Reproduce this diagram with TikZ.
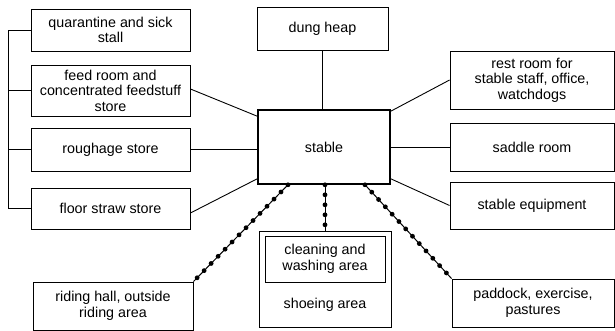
\documentclass[tikz,border=0pt]{standalone}
\usepackage{fontspec}
\setmainfont{Liberation Sans}
\tikzset{
  room/.style={draw, line width=0.9pt, align=center, inner sep=0pt, font=\fontsize{14.3}{15.5}\selectfont},
  link/.style={line width=0.9pt},
  walk/.style={line width=1pt, preaction={draw, line width=4.8pt, line cap=round, dash pattern=on 0pt off 10pt}}
}
\begin{document}
\begin{tikzpicture}[x=1pt, y=-1pt]
    \useasboundingbox (0,0) rectangle (615,331);

    % stores on the left
    \node[room, minimum width=159pt, minimum height=42pt] (quar) at (110.5,30) {quarantine and sick\\stall};
    \node[room, minimum width=159pt, minimum height=51pt] (feed) at (110.5,90.5) {feed room and\\concentrated feedstuff\\store};
    \node[room, minimum width=159pt, minimum height=43pt] (rough) at (110.5,149.5) {roughage store};
    \node[room, minimum width=159pt, minimum height=41pt] (straw) at (110.5,208.5) {floor straw store};

    % centre
    \node[room, minimum width=131pt, minimum height=43pt] (dung) at (322.5,28.5) {dung heap};
    \node[room, line width=1.6pt, minimum width=132pt, minimum height=74pt] (stable) at (324,147) {stable};

    % rooms on the right
    \node[room, minimum width=164pt, minimum height=58pt] (rest) at (532,80) {rest room for\\stable staff, office,\\watchdogs};
    \node[room, minimum width=164pt, minimum height=48pt] (saddle) at (532,147) {saddle room};
    \node[room, minimum width=164pt, minimum height=47pt] (equip) at (532,205.5) {stable equipment};

    % outside
    \node[room, minimum width=160pt, minimum height=48pt] (riding) at (113,306) {riding hall, outside\\riding area};
    \node[room, minimum width=132pt, minimum height=96pt] (shoe) at (325,279) {};
    \node[room, minimum width=120pt, minimum height=46pt] (clean) at (325,259) {cleaning and\\washing area};
    \node[font=\fontsize{14.3}{15.5}\selectfont] (shoelbl) at (325,305) {shoeing area};
    \node[room, minimum width=162pt, minimum height=48pt] (paddock) at (533,303) {paddock, exercise,\\pastures};

    % bracket joining the stores
    \coordinate (bustop) at (8,30);
    \coordinate (busbot) at (8,208.5);
    \draw[link] (quar.west) -- (bustop) -- (busbot) -- (straw.west);
    \draw[link] (feed.west) -- (feed.west -| bustop);
    \draw[link] (rough.west) -- (rough.west -| bustop);

    % plain links
    \draw[link] ([yshift=1.5pt]feed.east) -- ([yshift=-7pt]stable.north west);
    \draw[link] (rough.east) -- (rough.east -| stable.west);
    \draw[link] ([yshift=-4.5pt]straw.east) -- ([yshift=6pt]stable.south west);
    \draw[link] (dung.south) -- (dung.south |- stable.north);
    \draw[link] ([yshift=-2pt]stable.north east) -- (rest.west);
    \draw[link] (stable.east) -- (saddle.west);
    \draw[link] ([yshift=6pt]stable.south east) -- (equip.west);

    % walkways
    \draw[walk] ([xshift=-36pt]stable.south) -- (riding.north east);
    \draw[walk] (shoe.north |- stable.south) -- (shoe.north);
    \draw[walk] ([xshift=41pt]stable.south) -- (paddock.north west);
\end{tikzpicture}
\end{document}
